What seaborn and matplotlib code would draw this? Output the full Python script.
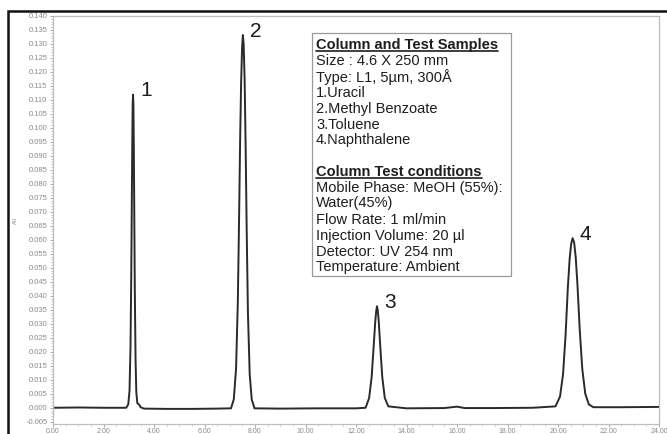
import matplotlib
matplotlib.use("Agg")
import matplotlib.pyplot as plt
import seaborn as sns
import numpy as np
import pandas as pd
from matplotlib.patches import Rectangle
from matplotlib.lines import Line2D
from matplotlib.ticker import MultipleLocator, FormatStrFormatter

# ---- data ----
time_min = [0.00, 1.00, 2.00, 2.90, 2.98, 3.03, 3.07, 3.10, 3.12, 3.14, 3.155, 3.17, 3.185,
            3.20, 3.22, 3.24, 3.27, 3.30, 3.34, 3.38, 3.42, 3.47, 3.60, 4.50, 5.50, 6.50, 7.05,
            7.16, 7.25, 7.32, 7.37, 7.41, 7.45, 7.49, 7.52, 7.55, 7.59, 7.63, 7.67, 7.72,
            7.79, 7.87, 7.98,
            9.00, 10.50, 12.00, 12.38, 12.52, 12.62, 12.70, 12.76, 12.80, 12.83, 12.86, 12.90,
            12.96, 13.04, 13.14, 13.28,
            14.00, 15.50, 16.00, 16.30, 17.50, 19.00, 19.90, 20.08, 20.20, 20.30, 20.39, 20.46,
            20.52, 20.58, 20.64, 20.70, 20.77, 20.86, 20.96, 21.08, 21.22, 21.40, 22.50, 24.00]
signal_au = [0.0000, 0.0001, 0.0000, 0.0000, 0.0012, 0.0060, 0.0220, 0.0480, 0.0720, 0.0950,
             0.1080, 0.1119, 0.1080, 0.0940, 0.0680, 0.0420, 0.0170, 0.0055, 0.0016, 0.0014,
             0.0010, 0.0002, -0.0003, -0.0004, -0.0004, -0.0003, -0.0002,
             0.0030, 0.0140, 0.0380, 0.0680, 0.0950, 0.1160, 0.1290, 0.1332, 0.1300, 0.1170,
             0.0930, 0.0640, 0.0340, 0.0120, 0.0030, -0.0002,
             -0.0003, -0.0002, -0.0002, 0.0000, 0.0035, 0.0110, 0.0220, 0.0305, 0.0345, 0.0363,
             0.0350, 0.0310, 0.0220, 0.0110, 0.0035, 0.0005,
             -0.0002, -0.0001, 0.0004, -0.0001, -0.0001, 0.0000, 0.0005, 0.0040, 0.0120, 0.0260,
             0.0430, 0.0530, 0.0585, 0.0606, 0.0590, 0.0540, 0.0440, 0.0280, 0.0140, 0.0050,
             0.0012, 0.0002, 0.0002, 0.0003]

peak_labels = ["1", "2", "3", "4"]
peak_times = [3.17, 7.52, 12.83, 20.58]
peak_heights = [0.1119, 0.1332, 0.0363, 0.0606]

box_lines = ["Column and Test Samples", "Size : 4.6 X 250 mm", "Type: L1, 5µm, 300Å",
             "1.Uracil", "2.Methyl Benzoate", "3.Toluene", "4.Naphthalene", "",
             "Column Test conditions", "Mobile Phase: MeOH (55%):", "Water(45%)",
             "Flow Rate: 1 ml/min", "Injection Volume: 20 µl", "Detector: UV 254 nm",
             "Temperature: Ambient"]
header_lines = ["Column and Test Samples", "Column Test conditions"]

sns.set_theme(style="white")
plt.rcParams["font.family"] = ["Liberation Sans", "DejaVu Sans"]

W, H = 667, 434
fig = plt.figure(figsize=(W / 100, H / 100), dpi=100)
fig.patch.set_facecolor("white")

def fx(px):
    return px / W

def fy(py):
    return 1 - py / H

ax = fig.add_axes([fx(53), fy(424), fx(659) - fx(53), fy(16) - fy(424)])

df = pd.DataFrame({"time": time_min, "au": signal_au})
sns.lineplot(data=df, x="time", y="au", ax=ax, color="#2a2a2a", lw=1.4,
             estimator=None, sort=True)

ax.set_xlim(0, 24)
ax.set_ylim(-0.0058, 0.140)
ax.xaxis.set_major_locator(MultipleLocator(2))
ax.xaxis.set_minor_locator(MultipleLocator(0.5))
ax.yaxis.set_major_locator(MultipleLocator(0.005))
ax.yaxis.set_minor_locator(MultipleLocator(0.001))
ax.xaxis.set_major_formatter(FormatStrFormatter("%.2f"))
ax.yaxis.set_major_formatter(FormatStrFormatter("%.3f"))
ax.tick_params(axis="both", which="major", labelcolor="#8a8a8a",
               color="#9a9a9a", length=2.5, width=0.6, direction="out")
ax.tick_params(axis="y", which="major", labelsize=5.5, pad=1.5)
ax.tick_params(axis="x", which="major", labelsize=5, pad=0.5)
ax.tick_params(axis="both", which="minor", color="#b0b0b0", length=1.5, width=0.5,
               direction="out")
ax.tick_params(axis="x", which="both", bottom=True)
ax.tick_params(axis="y", which="both", left=True)
ax.set_xlabel("")
ax.set_ylabel("AU", fontsize=4, color="#8a8a8a", labelpad=6)
for s in ax.spines.values():
    s.set_color("#bdbdbd")
    s.set_linewidth(0.9)

for lab, t, h in zip(peak_labels, peak_times, peak_heights):
    ax.annotate(lab, xy=(t, h), xytext=(5, -4), textcoords="offset points",
                fontsize=15, color="#1a1a1a", ha="left", va="bottom")

# info box
fig.patches.append(Rectangle((fx(312), fy(276)), fx(511) - fx(312), fy(33) - fy(276),
                             transform=fig.transFigure, fill=True, facecolor="white",
                             edgecolor="#9a9a9a", lw=0.9, zorder=5))
line_y = [45, 61, 77, 93, 109, 125, 140, 156, 172, 188, 203, 220, 236, 252, 267]
texts = []
for txt, py in zip(box_lines, line_y):
    if not txt:
        continue
    bold = txt in header_lines
    t = fig.text(fx(316), fy(py), txt, fontsize=10.5, color="#1e1e1e",
                 fontweight="bold" if bold else "normal", ha="left", va="center",
                 zorder=6)
    if bold:
        texts.append(t)

fig.canvas.draw()
renderer = fig.canvas.get_renderer()
for t in texts:
    bb = t.get_window_extent(renderer=renderer)
    yy = bb.y0 + 1.5
    fig.lines.append(Line2D([bb.x0 / W, bb.x1 / W], [yy / H, yy / H],
                            transform=fig.transFigure, color="#1e1e1e", lw=1.2, zorder=7))

# outer frame of the original figure
fig.patches.append(Rectangle((fx(8), fy(440)), fx(700) - fx(8), fy(11) - fy(440),
                             transform=fig.transFigure, fill=False, edgecolor="#111111",
                             lw=1.8, zorder=10, clip_on=False))

fig.savefig("out.png", dpi=100)
